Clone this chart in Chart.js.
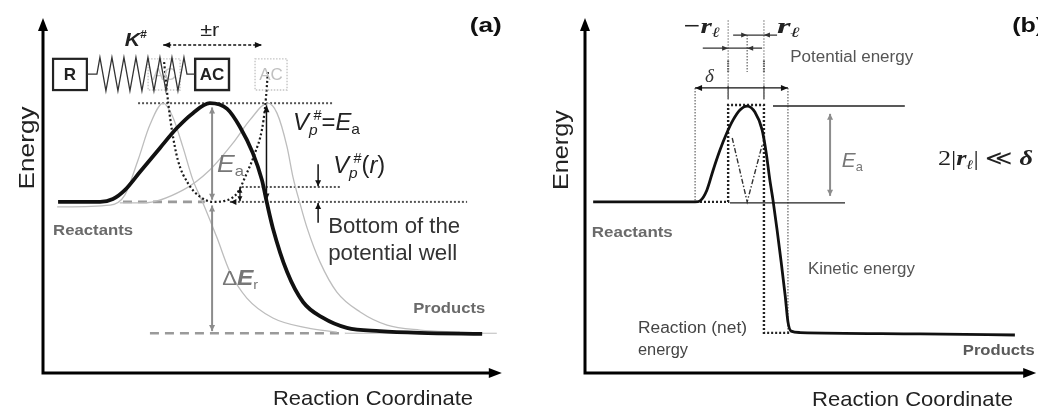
<!DOCTYPE html>
<html>
<head>
<meta charset="utf-8">
<title>Reaction coordinate diagrams</title>
<script src="https://cdn.jsdelivr.net/npm/chart.js@4.4.1/dist/chart.umd.min.js"></script>
<style>
  html, body { margin: 0; padding: 0; background: #fff; }
  #wrap { position: relative; width: 1038px; height: 409px; overflow: hidden; }
  .panel { position: absolute; top: 0; height: 409px; }
  #pa { left: 0; width: 520px; }
  #pb { left: 520px; width: 518px; }
</style>
</head>
<body>
<div id="wrap">
  <div class="panel" id="pa"><canvas id="chartA"></canvas></div>
  <div class="panel" id="pb"><canvas id="chartB"></canvas></div>
</div>
<script>
const SANS = '"Liberation Sans", Arial, Helvetica, sans-serif';
const SERIF = '"Liberation Serif", "Times New Roman", serif';

// ---------- Panel (a): spring model of the activated complex ----------
const levelsA = { reactant: 48.2, product: 11.2, barrier: 76.0, shifted: 52.4 };

// reaction path (thick curve)
const coordA  = [3.3, 12.5, 15.3, 17.9, 21.2, 25.6, 29.3, 32.8, 36.5, 40.3, 43.1, 45.9, 47.9, 49.0, 50.3, 53.4, 56.9, 61.3, 66.5, 73.7, 82.5, 96.1];
const energyA = [48.2, 48.2, 49.0, 51.5, 56.6, 63.4, 69.0, 73.2, 76.0, 74.4, 69.3, 62.0, 54.4, 47.9, 40.8, 28.5, 20.0, 15.5, 12.7, 11.8, 11.3, 11.0];

// path displaced by -r
const coordMinusR  = [3.1, 14.7, 17.9, 20.8, 23.4, 26.3, 28.4, 30.6, 32.8, 35.0, 38.1, 40.9, 44.6, 50.3, 57.8, 64.3];
const energyMinusR = [46.8, 47.3, 50.1, 60.0, 69.9, 76.0, 72.1, 63.7, 54.4, 47.9, 38.0, 28.5, 21.1, 15.5, 12.7, 11.5];

// path displaced by +r
const coordPlusR  = [16.8, 21.9, 30.6, 36.5, 41.6, 45.3, 49.2, 51.2, 53.4, 54.7, 56.2, 57.8, 60.6, 64.3, 69.4, 75.3, 82.5, 91.2];
const energyPlusR = [47.9, 47.9, 51.5, 57.2, 64.8, 71.3, 76.0, 73.2, 63.7, 55.2, 47.9, 40.8, 31.3, 22.8, 17.2, 13.5, 12.1, 11.5];

// potential well V_p#(r)
const coordWell  = [26.5, 27.1, 27.4, 28.2, 29.5, 31.7, 34.4, 37.2, 39.8, 42.5, 44.6, 46.4, 47.9, 48.6, 49.0, 49.2];
const energyWell = [87.6, 79.7, 76.1, 68.5, 60.0, 53.5, 49.6, 48.2, 48.5, 50.7, 56.3, 62.0, 68.5, 74.9, 81.1, 84.8];

// ---------- Panel (b): square-barrier picture ----------
const levelsB = { reactant: 48.2, product: 11.3, barrier: 75.2 };
const coordB  = [1.8, 24.3, 25.4, 26.9, 28.3, 29.8, 31.3, 32.7, 34.2, 35.8, 37.5, 39.1, 40.0, 40.8, 41.5, 42.4, 43.3, 44.2, 44.8, 45.5, 47.5, 74.0, 94.9];
const energyB = [48.2, 48.2, 48.5, 51.5, 57.2, 62.8, 67.6, 71.3, 74.1, 75.2, 73.5, 68.5, 62.0, 54.4, 48.7, 40.3, 31.3, 21.7, 14.4, 11.8, 11.4, 11.0, 10.7];

// barrier window (−rℓ, 0, +rℓ) and width δ along the coordinate
const windowB = { minusR: 31.6, centre: 35.8, plusR: 39.5, deltaLeft: 24.3, deltaRight: 44.8 };

// ---------- helpers ----------
const pts = (xs, ys) => xs.map((x, i) => ({ x, y: ys[i] }));
const seg = (list) => list.map(([x, y]) => ({ x, y }));

function curve(data, color, width, extra) {
  return Object.assign({ data, borderColor: color, borderWidth: width, pointRadius: 0, fill: false,
    cubicInterpolationMode: 'monotone', clip: false }, extra || {});
}
function straight(data, color, width, dash, extra) {
  return Object.assign({ data, borderColor: color, borderWidth: width, borderDash: dash || [], pointRadius: 0,
    fill: false, tension: 0, clip: false, borderCapStyle: 'butt' }, extra || {});
}

function head(ctx, tx, ty, ang, len, wid, color) {
  ctx.save();
  ctx.fillStyle = color;
  ctx.translate(tx, ty);
  ctx.rotate(ang);
  ctx.beginPath();
  ctx.moveTo(0, 0);
  ctx.lineTo(-len, -wid / 2);
  ctx.lineTo(-len, wid / 2);
  ctx.closePath();
  ctx.fill();
  ctx.restore();
}

function drawRich(ctx, x, y, segs, o) {
  let w = 0; const m = [];
  segs.forEach(s => { ctx.font = s.f; const sw = ctx.measureText(s.t).width; m.push(sw); w += (s.dx || 0) + sw; });
  const sx = o.fit ? o.fit / w : 1;
  ctx.save();
  ctx.translate(x, y);
  if (o.rotate) ctx.rotate(o.rotate);
  ctx.scale(sx, 1);
  ctx.textAlign = 'left';
  ctx.textBaseline = 'alphabetic';
  let cx = o.align === 'center' ? -w / 2 : 0;
  segs.forEach((s, i) => {
    ctx.font = s.f;
    ctx.fillStyle = s.c || o.c || '#111';
    cx += (s.dx || 0);
    ctx.fillText(s.t, cx, s.dy || 0);
    cx += m[i];
  });
  ctx.restore();
}

const diagramPlugin = {
  id: 'diagram',
  afterDatasetsDraw(chart, args, opts) {
    const ctx = chart.ctx;
    const sx = chart.scales.x, sy = chart.scales.y;
    const X = v => sx.getPixelForValue(v);
    const Y = v => sy.getPixelForValue(v);
    const area = chart.chartArea;

    // boxes
    (opts.boxes || []).forEach(b => {
      ctx.save();
      ctx.strokeStyle = b.color; ctx.lineWidth = b.width; ctx.setLineDash(b.dash || []);
      const x1 = X(b.x1), x2 = X(b.x2), y1 = Y(b.y1), y2 = Y(b.y2);
      ctx.strokeRect(x1, y1, x2 - x1, y2 - y1);
      ctx.setLineDash([]);
      ctx.font = b.font; ctx.fillStyle = b.textColor;
      ctx.textAlign = 'center'; ctx.textBaseline = 'middle';
      ctx.fillText(b.text, (x1 + x2) / 2, (y1 + y2) / 2 + 1);
      ctx.restore();
    });

    // spring
    if (opts.spring) {
      const s = opts.spring;
      ctx.save();
      ctx.strokeStyle = s.color; ctx.lineWidth = s.width; ctx.lineJoin = 'miter';
      ctx.beginPath();
      ctx.moveTo(X(s.x1), Y(s.y));
      ctx.lineTo(X(s.z1), Y(s.y));
      const step = (s.z2 - s.z1) / s.n;
      for (let i = 0; i < s.n; i++) {
        const xm = s.z1 + step * (i + 0.5);
        ctx.lineTo(X(xm), Y(i % 2 === 0 ? s.top : s.bottom));
      }
      ctx.lineTo(X(s.z2), Y(s.y));
      ctx.lineTo(X(s.x2), Y(s.y));
      ctx.stroke();
      ctx.restore();
    }

    // arrows
    (opts.arrows || []).forEach(a => {
      const x1 = X(a.from[0]), y1 = Y(a.from[1]), x2 = X(a.to[0]), y2 = Y(a.to[1]);
      const ang = Math.atan2(y2 - y1, x2 - x1);
      const len = a.head || 7, wid = a.headW || 6;
      ctx.save();
      ctx.strokeStyle = a.color; ctx.lineWidth = a.width; ctx.setLineDash(a.dash || []);
      ctx.beginPath(); ctx.moveTo(x1, y1); ctx.lineTo(x2, y2); ctx.stroke();
      ctx.restore();
      if (a.heads === 'end' || a.heads === 'both') head(ctx, x2, y2, ang, len, wid, a.color);
      if (a.heads === 'start' || a.heads === 'both') head(ctx, x1, y1, ang + Math.PI, len, wid, a.color);
    });

    // bare arrow heads
    (opts.heads || []).forEach(h => {
      head(ctx, X(h.tip[0]), Y(h.tip[1]), h.angle, h.len || 7, h.wid || 6, h.color);
    });

    // axes with arrow tips
    const ax = opts.axes;
    ctx.save();
    ctx.strokeStyle = '#000'; ctx.lineWidth = 3; ctx.lineCap = 'butt';
    ctx.beginPath();
    ctx.moveTo(area.left, area.bottom + 1.5);
    ctx.lineTo(area.left, Y(ax.yTip) + 10);
    ctx.moveTo(area.left - 1.5, area.bottom);
    ctx.lineTo(X(ax.xTip) - 10, area.bottom);
    ctx.stroke();
    ctx.restore();
    head(ctx, area.left, Y(ax.yTip), -Math.PI / 2, 13, 10, '#000');
    head(ctx, X(ax.xTip), area.bottom, 0, 13, 10, '#000');

    // text
    (opts.labels || []).forEach(l => {
      drawRich(ctx, X(l.at[0]), Y(l.at[1]), l.segs, l);
    });
  }
};
Chart.register(diagramPlugin);

function options(pad, diagram) {
  return {
    responsive: true,
    maintainAspectRatio: false,
    animation: false,
    events: [],
    layout: { padding: pad },
    scales: {
      x: { type: 'linear', min: 0, max: 100, display: false },
      y: { type: 'linear', min: 0, max: 100, display: false }
    },
    plugins: { legend: { display: false }, tooltip: { enabled: false }, diagram }
  };
}

const GREY = '#8c8c8c';
const DOT = [2, 2];

// ---------- chart (a) ----------
const LA = levelsA;
new Chart(document.getElementById('chartA'), {
  type: 'line',
  data: {
    datasets: [
      curve(pts(coordA, energyA), '#111', 3.8),
      curve(pts(coordWell, energyWell), '#1a1a1a', 2.2, { borderDash: [2, 2.4] }),
      curve(pts(coordMinusR, energyMinusR), '#bdbdbd', 1.3),
      curve(pts(coordPlusR, energyPlusR), '#bdbdbd', 1.3),
      straight(seg([[17.5, LA.reactant], [35.4, LA.reactant]]), '#9a9a9a', 2.6, [9, 6]),
      straight(seg([[40.9, LA.reactant], [92.8, LA.reactant]]), '#555', 2, DOT),
      straight(seg([[23.4, LA.product], [66.1, LA.product]]), '#9a9a9a', 2.6, [9, 6]),
      straight(seg([[66.1, LA.product], [99.3, LA.product]]), '#bbb', 1),
      straight(seg([[20.8, LA.barrier], [63.5, LA.barrier]]), '#555', 2, DOT),
      straight(seg([[43.5, LA.shifted], [65.0, LA.shifted]]), '#555', 2, DOT)
    ]
  },
  options: options({ left: 43, right: 20, top: 18, bottom: 36 }, {
    axes: { xTip: 100.4, yTip: 100 },
    boxes: [
      { x1: 23.0, x2: 30.0, y1: 88.5, y2: 79.7, color: '#c4c4c4', width: 1.4, dash: [1.5, 1.5], text: 'AC', font: '17px ' + SANS, textColor: '#c8c8c8' },
      { x1: 46.4, x2: 53.4, y1: 88.5, y2: 79.7, color: '#c4c4c4', width: 1.4, dash: [1.5, 1.5], text: 'AC', font: '17px ' + SANS, textColor: '#c0c0c0' },
      { x1: 2.2, x2: 9.6, y1: 88.5, y2: 79.7, color: '#222', width: 2.2, text: 'R', font: 'bold 17px ' + SANS, textColor: '#222' },
      { x1: 33.3, x2: 40.7, y1: 88.5, y2: 79.7, color: '#222', width: 2.4, text: 'AC', font: 'bold 17px ' + SANS, textColor: '#222' }
    ],
    spring: { x1: 9.6, z1: 11.8, z2: 31.5, x2: 33.3, y: 84.2, top: 88.9, bottom: 79.5, n: 15, color: '#333', width: 1.3 },
    arrows: [
      { from: [37.0, LA.reactant + 0.6], to: [37.0, LA.barrier - 1.2], heads: 'both', color: GREY, width: 2, head: 6, headW: 6 },
      { from: [37.0, LA.reactant - 1.0], to: [37.0, LA.product + 0.6], heads: 'both', color: GREY, width: 2, head: 6, headW: 6 },
      { from: [48.9, LA.reactant + 0.4], to: [48.9, LA.barrier - 0.6], heads: 'both', color: '#111', width: 1.5, head: 7, headW: 6 },
      { from: [60.2, 58.8], to: [60.2, LA.shifted + 0.2], heads: 'end', color: '#111', width: 1.5, head: 6, headW: 6 },
      { from: [60.2, 42.3], to: [60.2, LA.reactant - 0.3], heads: 'end', color: '#111', width: 1.5, head: 6, headW: 6 },
      { from: [43.1, LA.reactant + 0.2], to: [43.1, LA.shifted - 0.2], heads: 'both', color: '#111', width: 1.3, head: 5, headW: 5 },
      { from: [26.3, 92.4], to: [47.9, 92.4], heads: 'both', color: '#111', width: 1.4, dash: [3, 2], head: 7, headW: 6 }
    ],
    heads: [
      { tip: [41.0, LA.reactant], angle: Math.PI, color: '#111', len: 6, wid: 6 }
    ],
    labels: [
      { at: [93.4, 96.1], fit: 32, segs: [{ t: '(a)', f: 'bold 21px ' + SANS }] },
      { at: [17.9, 92.1], fit: 22, segs: [{ t: 'K', f: 'italic bold 18px ' + SANS, c: '#222' }, { t: '#', f: 'bold 10px ' + SANS, dy: -8, c: '#222' }] },
      { at: [34.4, 94.9], fit: 19, segs: [{ t: '±r', f: '18px ' + SANS, c: '#222' }] },
      { at: [54.7, 68.5], fit: 67, c: '#222', segs: [
        { t: 'V', f: 'italic 23px ' + SANS }, { t: 'p', f: 'italic 15px ' + SANS, dy: 5 },
        { t: '#', f: '14px ' + SANS, dy: -10, dx: -4 }, { t: '=', f: '23px ' + SANS },
        { t: 'E', f: 'italic 23px ' + SANS }, { t: 'a', f: '15px ' + SANS, dy: 4 }] },
      { at: [63.5, 56.3], fit: 52, c: '#222', segs: [
        { t: 'V', f: 'italic 23px ' + SANS }, { t: 'p', f: 'italic 15px ' + SANS, dy: 5 },
        { t: '#', f: '14px ' + SANS, dy: -10, dx: -4 }, { t: '(', f: '23px ' + SANS },
        { t: 'r', f: 'italic 23px ' + SANS }, { t: ')', f: '23px ' + SANS }] },
      { at: [38.1, 56.6], fit: 27, c: '#777', segs: [{ t: 'E', f: 'italic 24px ' + SANS }, { t: 'a', f: '15px ' + SANS, dy: 4 }] },
      { at: [39.2, 24.8], fit: 36, c: '#777', segs: [{ t: 'Δ', f: '20px ' + SANS }, { t: 'E', f: 'italic bold 22px ' + SANS }, { t: 'r', f: '13px ' + SANS, dy: 4 }] },
      { at: [62.4, 39.4], fit: 132, c: '#333', segs: [{ t: 'Bottom of the', f: '22px ' + SANS }] },
      { at: [62.4, 31.8], fit: 129, c: '#333', segs: [{ t: 'potential well', f: '22px ' + SANS }] },
      { at: [2.2, 38.9], fit: 80, c: '#6a6a6a', segs: [{ t: 'Reactants', f: 'bold 15px ' + SANS }] },
      { at: [81.0, 16.9], fit: 72, c: '#6a6a6a', segs: [{ t: 'Products', f: 'bold 15px ' + SANS }] },
      { at: [-2.0, 63.4], fit: 83, align: 'center', rotate: -Math.PI / 2, c: '#222', segs: [{ t: 'Energy', f: '22px ' + SANS }] },
      { at: [72.2, -9.0], fit: 200, align: 'center', c: '#222', segs: [{ t: 'Reaction Coordinate', f: '21px ' + SANS }] }
    ]
  })
});

// ---------- chart (b) ----------
const LB = levelsB, W = windowB;
new Chart(document.getElementById('chartB'), {
  type: 'line',
  data: {
    datasets: [
      curve(pts(coordB, energyB), '#111', 2.8),
      straight(seg([[41.5, LB.barrier], [70.6, LB.barrier]]), '#222', 1.5),
      straight(seg([[32.0, 47.9], [57.4, 47.9]]), '#222', 1.2),
      // dotted square barrier
      straight(seg([[24.5, LB.reactant], [W.minusR, LB.reactant], [W.minusR, 75.5], [W.plusR, 75.5], [W.plusR, LB.product], [45.3, LB.product]]), '#222', 2.4, [2, 2]),
      // zero-point dip inside the window
      straight(seg([[32.5, 66.2], [W.centre, LB.reactant], [39.1, 64.2]]), '#333', 1.4, [5, 2, 1.5, 2]),
      // limits of δ
      straight(seg([[W.deltaLeft, 80.3], [W.deltaLeft, LB.reactant]]), '#555', 1.1, [1.5, 1.5]),
      straight(seg([[W.deltaRight, 80.3], [W.deltaRight, LB.product]]), '#555', 1.1, [1.5, 1.5]),
      // limits of the window ±rℓ
      straight(seg([[W.minusR, 99.4], [W.minusR, 76.9]]), '#777', 1.1, [1.5, 1.5]),
      straight(seg([[W.plusR, 99.4], [W.plusR, 76.9]]), '#777', 1.1, [1.5, 1.5]),
      straight(seg([[W.centre, 95.2], [W.centre, 84.8]]), '#777', 1.4, [1.5, 1.5]),
      straight(seg([[W.minusR, 88.0], [W.minusR, 84.8]]), '#555', 2, [1.5, 1]),
      straight(seg([[W.plusR, 88.0], [W.plusR, 84.8]]), '#555', 2, [1.5, 1]),
      straight(seg([[W.minusR, 81.0], [W.minusR, 77.2]]), '#444', 1.3),
      straight(seg([[W.plusR, 81.0], [W.plusR, 77.2]]), '#444', 1.3)
    ]
  },
  options: options({ left: 65, right: 0, top: 18, bottom: 36 }, {
    axes: { xTip: 99.6, yTip: 100 },
    arrows: [
      { from: [54.1, 49.9], to: [54.1, 73.0], heads: 'both', color: GREY, width: 2, head: 6, headW: 6 },
      { from: [W.deltaLeft, 80.3], to: [W.deltaRight, 80.3], heads: 'both', color: '#111', width: 1.3, head: 7, headW: 6 },
      { from: [32.7, 95.2], to: [42.4, 95.2], heads: 'none', color: '#333', width: 1.3 },
      { from: [26.0, 91.5], to: [39.1, 91.5], heads: 'none', color: '#333', width: 1.3 }
    ],
    heads: [
      { tip: [W.centre, 95.2], angle: 0, color: '#333', len: 6, wid: 5 },
      { tip: [W.plusR, 95.2], angle: Math.PI, color: '#333', len: 6, wid: 5 },
      { tip: [W.minusR, 91.5], angle: 0, color: '#333', len: 6, wid: 5 },
      { tip: [W.centre, 91.5], angle: Math.PI, color: '#333', len: 6, wid: 5 }
    ],
    labels: [
      { at: [94.3, 96.1], fit: 32, segs: [{ t: '(b)', f: 'bold 21px ' + SANS }] },
      { at: [21.6, 95.8], fit: 37, c: '#222', segs: [{ t: '−r', f: 'italic bold 22px ' + SERIF }, { t: 'ℓ', f: 'italic bold 14px ' + SERIF, dy: 4 }] },
      { at: [42.4, 95.8], fit: 23, c: '#222', segs: [{ t: 'r', f: 'italic bold 22px ' + SERIF }, { t: 'ℓ', f: 'italic bold 14px ' + SERIF, dy: 4 }] },
      { at: [45.3, 87.6], fit: 123, c: '#555', segs: [{ t: 'Potential energy', f: '16px ' + SANS }] },
      { at: [26.5, 82.0], c: '#333', segs: [{ t: 'δ', f: 'italic 19px ' + SERIF }] },
      { at: [56.7, 58.0], fit: 21, c: '#777', segs: [{ t: 'E', f: 'italic 21px ' + SANS }, { t: 'a', f: '13px ' + SANS, dy: 4 }] },
      { at: [77.9, 58.6], fit: 95, c: '#222', segs: [
        { t: '2|', f: '21px ' + SERIF }, { t: 'r', f: 'italic bold 21px ' + SERIF }, { t: 'ℓ', f: 'italic bold 13px ' + SERIF, dy: 4 },
        { t: '| ≪ ', f: '21px ' + SERIF }, { t: 'δ', f: 'italic bold 21px ' + SERIF }] },
      { at: [1.5, 38.3], fit: 81, c: '#6a6a6a', segs: [{ t: 'Reactants', f: 'bold 15px ' + SANS }] },
      { at: [49.2, 27.9], fit: 107, c: '#555', segs: [{ t: 'Kinetic energy', f: '16px ' + SANS }] },
      { at: [11.7, 11.3], fit: 109, c: '#444', segs: [{ t: 'Reaction (net)', f: '16px ' + SANS }] },
      { at: [11.7, 5.1], fit: 50, c: '#444', segs: [{ t: 'energy', f: '16px ' + SANS }] },
      { at: [83.4, 5.1], fit: 72, c: '#5a5a5a', segs: [{ t: 'Products', f: 'bold 15px ' + SANS }] },
      { at: [-3.75, 62.8], fit: 80, align: 'center', rotate: -Math.PI / 2, c: '#222', segs: [{ t: 'Energy', f: '22px ' + SANS }] },
      { at: [72.3, -9.3], fit: 201, align: 'center', c: '#222', segs: [{ t: 'Reaction Coordinate', f: '21px ' + SANS }] }
    ]
  })
});
</script>
</body>
</html>
